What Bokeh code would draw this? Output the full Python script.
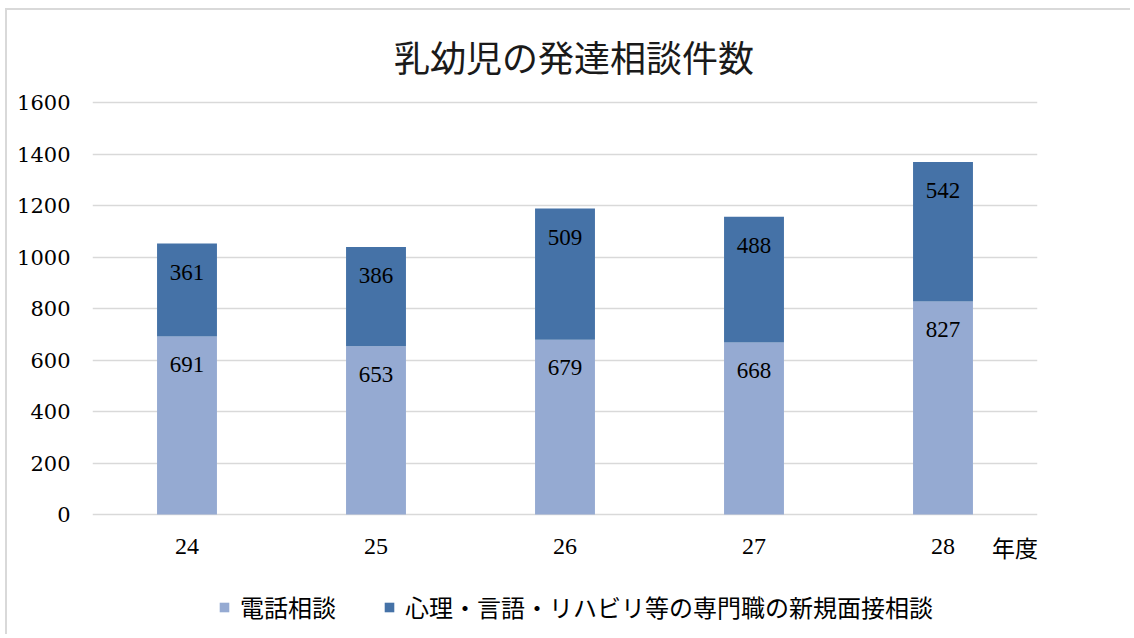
from bokeh.plotting import figure
from bokeh.models import ColumnDataSource, FixedTicker, Label, LabelSet, Range1d
from bokeh.embed import file_html
from bokeh.resources import INLINE

years = ["24", "25", "26", "27", "28"]
tel = [691, 653, 679, 668, 827]
pro = [361, 386, 509, 488, 542]
series_names = ["電話相談", "心理・言語・リハビリ等の専門職の新規面接相談"]
y_ticks = [0, 200, 400, 600, 800, 1000, 1200, 1400, 1600]
title_text = "乳幼児の発達相談件数"
x_unit = "年度"

LIGHT = "#95AAD2"
DARK = "#4572A7"
GRID = "#d9d9d9"
JP = "Noto Sans CJK JP"
NUM = "DejaVu Serif"

tops = [a + b for a, b in zip(tel, pro)]
source = ColumnDataSource(dict(
    year=years, tel=tel, pro=pro, tops=tops, zero=[0] * len(years),
    tel_txt=[str(v) for v in tel], pro_txt=[str(v) for v in pro],
))

# frame spans page y 12..636; value 0 at y=514, 1600 at y=102
px_per_unit = (514 - 102) / 1600
y_lo = -(636 - 514) / px_per_unit
y_hi = 1600 + (102 - 12) / px_per_unit

p = figure(x_range=years, y_range=Range1d(y_lo, y_hi), width=1125, height=626,
           x_axis_location=None,
           output_backend="svg", toolbar_location=None,
           min_border_left=85, min_border_right=95, min_border_top=2, min_border_bottom=0)
p.styles = {"margin-left": "5px", "margin-top": "8px",
            "border-top": "2px solid #d9d9d9", "border-left": "2px solid #d9d9d9"}

r = p.vbar_stack(["tel", "pro"], x="year", width=0.317, color=[LIGHT, DARK],
                 line_color=None, source=source, legend_label=series_names)

p.add_layout(LabelSet(x="year", y="tel", text="tel_txt", source=source,
                      text_align="center", text_baseline="middle", y_offset=-28,
                      text_font=NUM, text_font_size="23px", text_color="#000000"))
p.add_layout(LabelSet(x="year", y="tops", text="pro_txt", source=source,
                      text_align="center", text_baseline="middle", y_offset=-29,
                      text_font=NUM, text_font_size="23px", text_color="#000000"))

# category labels under the zero line
p.add_layout(LabelSet(x="year", y="zero", text="year", source=source,
                      text_align="center", text_baseline="middle", y_offset=-32,
                      text_font=NUM, text_font_size="24px", text_color="#000000"))

# y axis
p.yaxis.ticker = FixedTicker(ticks=y_ticks)
p.yaxis.axis_line_color = None
p.yaxis.major_tick_line_color = None
p.yaxis.minor_tick_line_color = None
p.yaxis.major_tick_out = 0
p.yaxis.major_label_standoff = 22
p.yaxis.major_label_text_font = NUM
p.yaxis.major_label_text_font_size = "21px"
p.yaxis.major_label_text_color = "#000000"

p.xgrid.grid_line_color = None
p.ygrid.ticker = FixedTicker(ticks=y_ticks)
p.ygrid.grid_line_color = GRID
p.ygrid.grid_line_width = 1.5
p.outline_line_color = None

# title
p.add_layout(Label(x=len(years) / 2, y=y_ticks[-1], x_offset=9, y_offset=47, text=title_text,
                   text_align="center", text_baseline="middle",
                   text_font=JP, text_font_size="36px", text_color="#1a1a1a"))

# unit label
p.add_layout(Label(x=len(years) - 0.5, y=0, x_offset=72, y_offset=-32, text=x_unit,
                   text_align="center", text_baseline="middle",
                   text_font=JP, text_font_size="23px", text_color="#000000"))

# legend
lg = p.legend[0]
lg.orientation = "horizontal"
lg.location = (126, 12)
lg.padding = 0
lg.margin = 0
lg.spacing = 47
lg.glyph_width = 12
lg.glyph_height = 12
lg.label_standoff = 10
lg.label_text_font = JP
lg.label_text_font_size = "24px"
lg.label_text_color = "#000000"
lg.border_line_color = None
lg.background_fill_alpha = 0

open("out.html", "w").write(file_html(p, INLINE))
